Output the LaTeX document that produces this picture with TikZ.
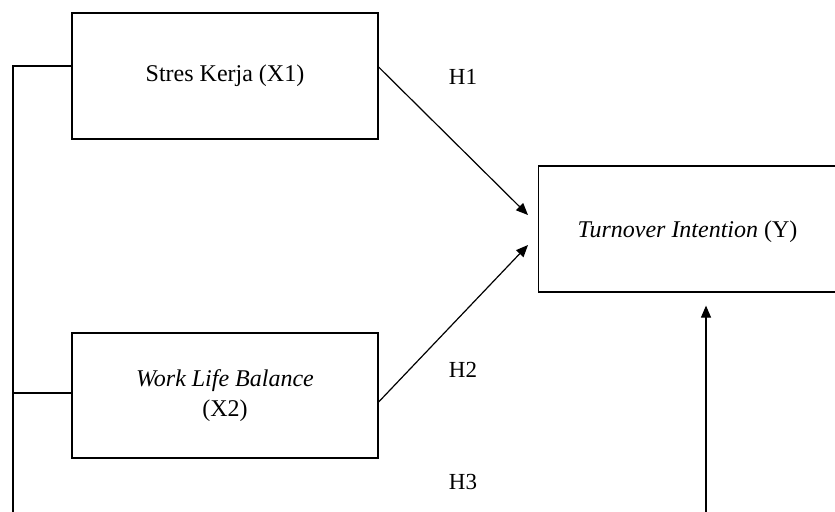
\documentclass[tikz,border=0pt]{standalone}
\usepackage{fontspec}
\setmainfont{Liberation Serif}
\usetikzlibrary{arrows.meta,calc}
\begin{document}
\begin{tikzpicture}[x=0.5pt,y=-0.5pt,
  line width=0.6pt,
  box/.style={draw,rectangle,inner sep=0pt,align=center,font=\fontsize{12}{15}\selectfont},
  hlab/.style={font=\fontsize{11.5}{14}\selectfont,inner sep=0pt},
  arr/.style={-{Triangle[length=6pt,width=5pt]}}]
\useasboundingbox (0,0) rectangle (835,511);
\node[box,minimum width=153pt,minimum height=63pt] (X1) at (225,76) {Stres Kerja (X1)};
\node[box,minimum width=153pt,minimum height=62.5pt] (X2) at (225,395.5) {\textit{Work Life Balance}\\(X2)};
\node[box,minimum width=149pt,minimum height=63pt,text depth=0pt] (Y) at (687.5,229) {\textit{Turnover Intention} (Y)};
\coordinate (c1) at (13,66);
\coordinate (c2) at (13,393);
\coordinate (cb) at (13,512);
\coordinate (t1) at (528,215);
\coordinate (t2) at (528,245);
\coordinate (vb) at (706,512);
\draw (c1 -| X1.west) -- (c1) -- (cb);
\draw (c2 -| X2.west) -- (c2);
\draw[arr] ($(X1.east)+(0,-9)$) -- (t1);
\draw[arr] ($(X2.east)+(0,6.5)$) -- (t2);
\draw[arr] (vb) -- ($(Y.south -| vb)+(0,13)$);
\node[hlab] (H1) at (463,77) {H1};
\node[hlab] (H2) at (463,370) {H2};
\node[hlab] (H3) at (463,482) {H3};
\end{tikzpicture}
\end{document}
